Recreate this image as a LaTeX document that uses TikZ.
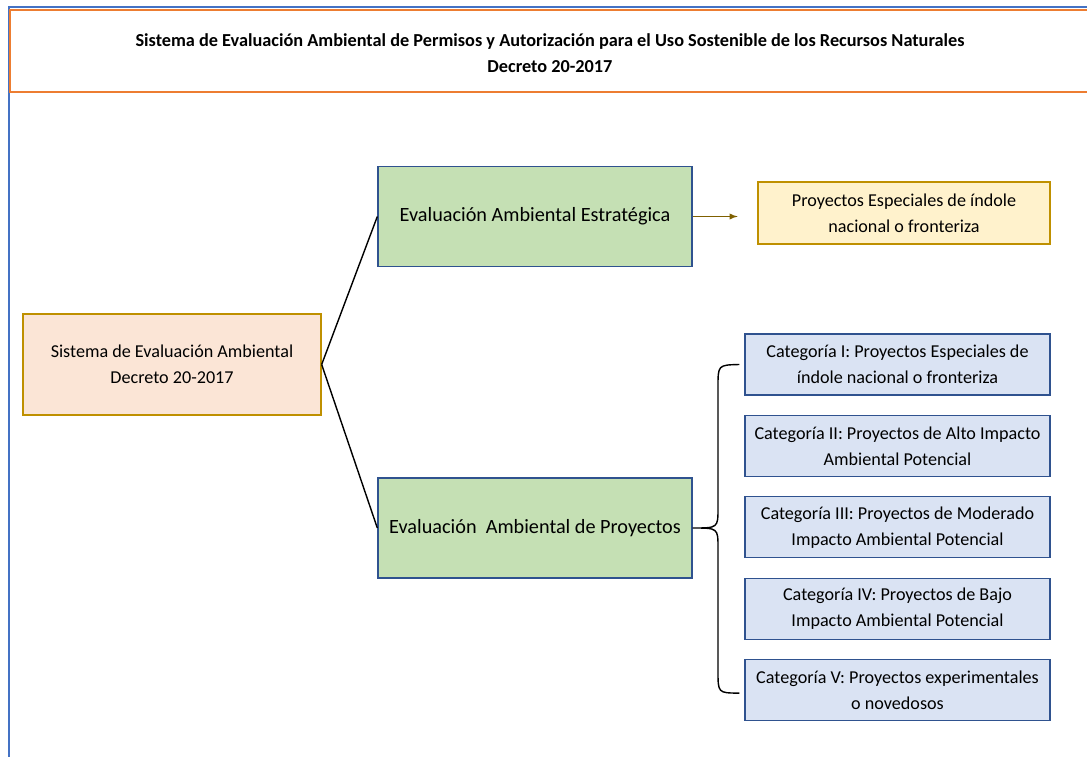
\documentclass[tikz,border=0pt]{standalone}
\usepackage{fontspec}
\setmainfont{Carlito}
\usetikzlibrary{calc}
\definecolor{frameblue}{HTML}{4472C4}
\definecolor{titleorange}{HTML}{ED7D31}
\definecolor{peach}{HTML}{FBE5D6}
\definecolor{gold}{HTML}{BF9000}
\definecolor{leaf}{HTML}{C5E0B4}
\definecolor{boxblue}{HTML}{2F528F}
\definecolor{paleblue}{HTML}{DAE3F3}
\definecolor{paleyellow}{HTML}{FFF2CC}
\definecolor{darkgold}{HTML}{7F6000}
\tikzset{
    box/.style={draw,line width=0.9pt,align=center,inner sep=2pt,
        font=\fontsize{12.9}{18.5}\selectfont},
    sysbox/.style={box,draw=gold,fill=peach,minimum width=7.45cm,minimum height=2.525cm},
    evalbox/.style={box,draw=boxblue,fill=leaf,minimum width=7.85cm,minimum height=2.5cm,
        font=\fontsize{14.4}{18.5}\selectfont},
    specbox/.style={box,draw=gold,fill=paleyellow,minimum width=7.3cm,minimum height=1.55cm},
    catbox/.style={box,draw=boxblue,fill=paleblue,minimum width=7.625cm,minimum height=1.525cm}
}
\begin{document}
\begin{tikzpicture}[x=0.025cm,y=-0.025cm]
        \useasboundingbox (0,0) rectangle (1087,757);
        % frame and title
        \draw[frameblue,line width=1.6pt] (9,800) -- (9,7) -- (1120,7);
        \draw[titleorange,line width=1.2pt] (1120,10) -- (10,10) -- (10,92) -- (1120,92);
        \node[font=\bfseries\fontsize{13}{18.5}\selectfont,align=center] (title) at (550,53)
            {Sistema de Evaluación Ambiental de Permisos y Autorización para el Uso Sostenible de los Recursos Naturales\\Decreto 20-2017};

        \node[sysbox] (sys) at (172,364.5) {Sistema de Evaluación Ambiental\\Decreto 20-2017};
        \node[evalbox] (strat) at (535,216.5) {Evaluación Ambiental Estratégica};
        \node[evalbox] (proj) at (535,528) {Evaluación\ \ Ambiental de Proyectos};
        \node[specbox] (spec) at (904,213) {Proyectos Especiales de índole\\nacional o fronteriza};

        \draw[line width=1pt] (sys.east) -- (strat.west);
        \draw[line width=1pt] (sys.east) -- (proj.west);
        \coordinate (tip) at ($(strat.east)+(45,0)$);
        \draw[darkgold,line width=1pt,-latex] (strat.east) -- (tip);

        % categories
        \foreach \i/\txt in {1/{Categoría I: Proyectos Especiales de\\índole nacional o fronteriza},
                2/{Categoría II: Proyectos de Alto Impacto\\Ambiental Potencial},
                3/{Categoría III: Proyectos de Moderado\\Impacto Ambiental Potencial},
                4/{Categoría IV: Proyectos de Bajo\\Impacto Ambiental Potencial},
                5/{Categoría V: Proyectos experimentales\\o novedosos}}
            \node[catbox] (cat\i) at (897.5,{364.5+81.4*(\i-1)}) {\txt};

        % brace
        \coordinate (btop) at ($(cat1.west)+(-5,0)$);
        \coordinate (bbot) at ($(cat5.west)+(-5,3)$);
        \draw[line width=1pt] (btop) .. controls (718,365) .. (718,387) -- (718,508)
            .. controls (718,528) .. (proj.east) .. controls (718,528) .. (718,548)
            -- (718,671) .. controls (718,693) .. (bbot);
    \end{tikzpicture}
\end{document}
